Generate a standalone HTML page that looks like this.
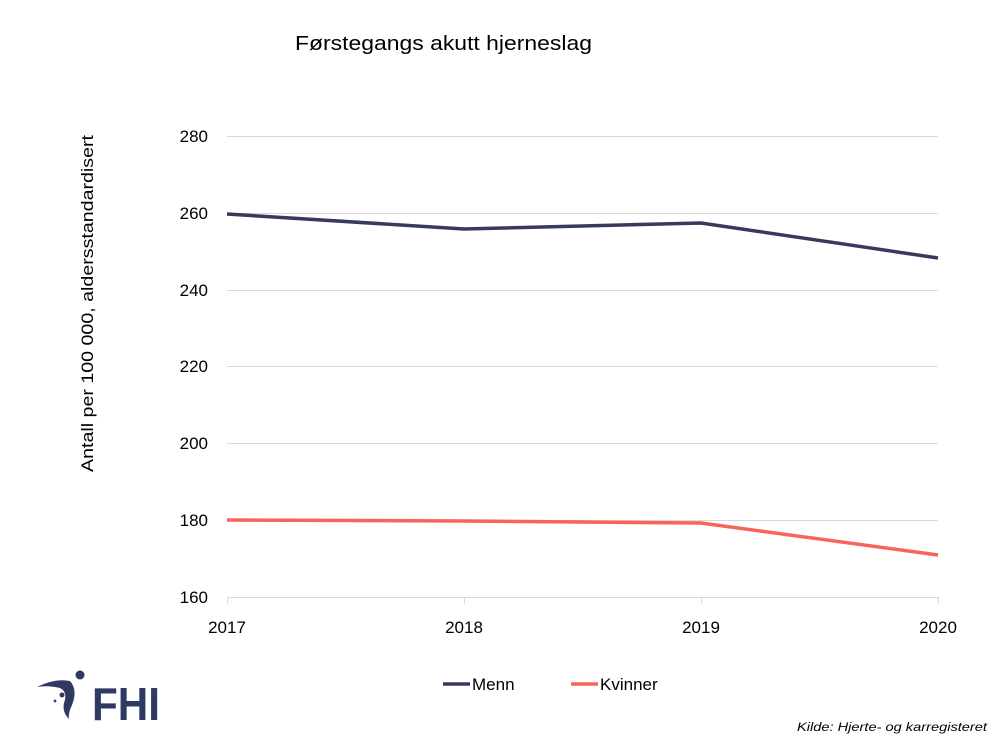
<!DOCTYPE html>
<html><head><meta charset="utf-8"><style>
body{margin:0;background:#fff;}
svg text{font-family:"Liberation Sans",sans-serif;fill:#000;}
</style></head><body>
<svg width="1000" height="742" xmlns="http://www.w3.org/2000/svg">
<text x="295" y="50" font-size="20" textLength="297" lengthAdjust="spacingAndGlyphs">Førstegangs akutt hjerneslag</text>
<g stroke="#d9d9d9" stroke-width="1">
<line x1="227" y1="136.5" x2="938" y2="136.5"/>
<line x1="227" y1="213.5" x2="938" y2="213.5"/>
<line x1="227" y1="290.5" x2="938" y2="290.5"/>
<line x1="227" y1="366.5" x2="938" y2="366.5"/>
<line x1="227" y1="443.5" x2="938" y2="443.5"/>
<line x1="227" y1="520.5" x2="938" y2="520.5"/>
<line x1="227" y1="597.5" x2="938" y2="597.5"/>
<line x1="227.5" y1="597" x2="227.5" y2="604"/>
<line x1="464.5" y1="597" x2="464.5" y2="604"/>
<line x1="701.5" y1="597" x2="701.5" y2="604"/>
<line x1="938.5" y1="597" x2="938.5" y2="604"/>
</g>
<g font-size="17" text-anchor="end">
<text x="208" y="142">280</text><text x="208" y="219">260</text><text x="208" y="296">240</text>
<text x="208" y="372">220</text><text x="208" y="449">200</text><text x="208" y="526">180</text><text x="208" y="603">160</text>
</g>
<g font-size="17" text-anchor="middle">
<text x="227" y="633">2017</text><text x="464" y="633">2018</text><text x="701" y="633">2019</text><text x="938" y="633">2020</text>
</g>
<text transform="translate(93,472) rotate(-90)" font-size="17" textLength="337" lengthAdjust="spacingAndGlyphs">Antall per 100 000,  aldersstandardisert</text>
<polyline points="227,214 464,229 701,223 938,258" fill="none" stroke="#363a5c" stroke-width="3.5"/>
<polyline points="227,520 464,521 701,523 938,555" fill="none" stroke="#f8635b" stroke-width="3.5"/>
<line x1="443" y1="684" x2="470" y2="684" stroke="#363a5c" stroke-width="3.5"/>
<text x="472" y="690" font-size="17">Menn</text>
<line x1="571" y1="684" x2="598" y2="684" stroke="#f8635b" stroke-width="3.5"/>
<text x="600" y="690" font-size="17">Kvinner</text>
<text x="797" y="731" font-size="12" font-style="italic" textLength="190" lengthAdjust="spacingAndGlyphs">Kilde: Hjerte- og karregisteret</text>
<g fill="#2f3a63">
<path d="M37,687 Q55,678 70,681 Q78,690 72,705 Q68,713 69,719 Q62,712 64,703 Q68,692 60,688 Q48,685 37,687 Z"/>
<circle cx="80" cy="675" r="4.5"/>
<circle cx="62" cy="695" r="2.5"/>
<circle cx="55" cy="701" r="1.4"/>
<text x="92" y="720" font-size="46" font-weight="bold" textLength="68" lengthAdjust="spacingAndGlyphs" style="fill:#2f3a63">FHI</text>
</g>
</svg>
</body></html>
